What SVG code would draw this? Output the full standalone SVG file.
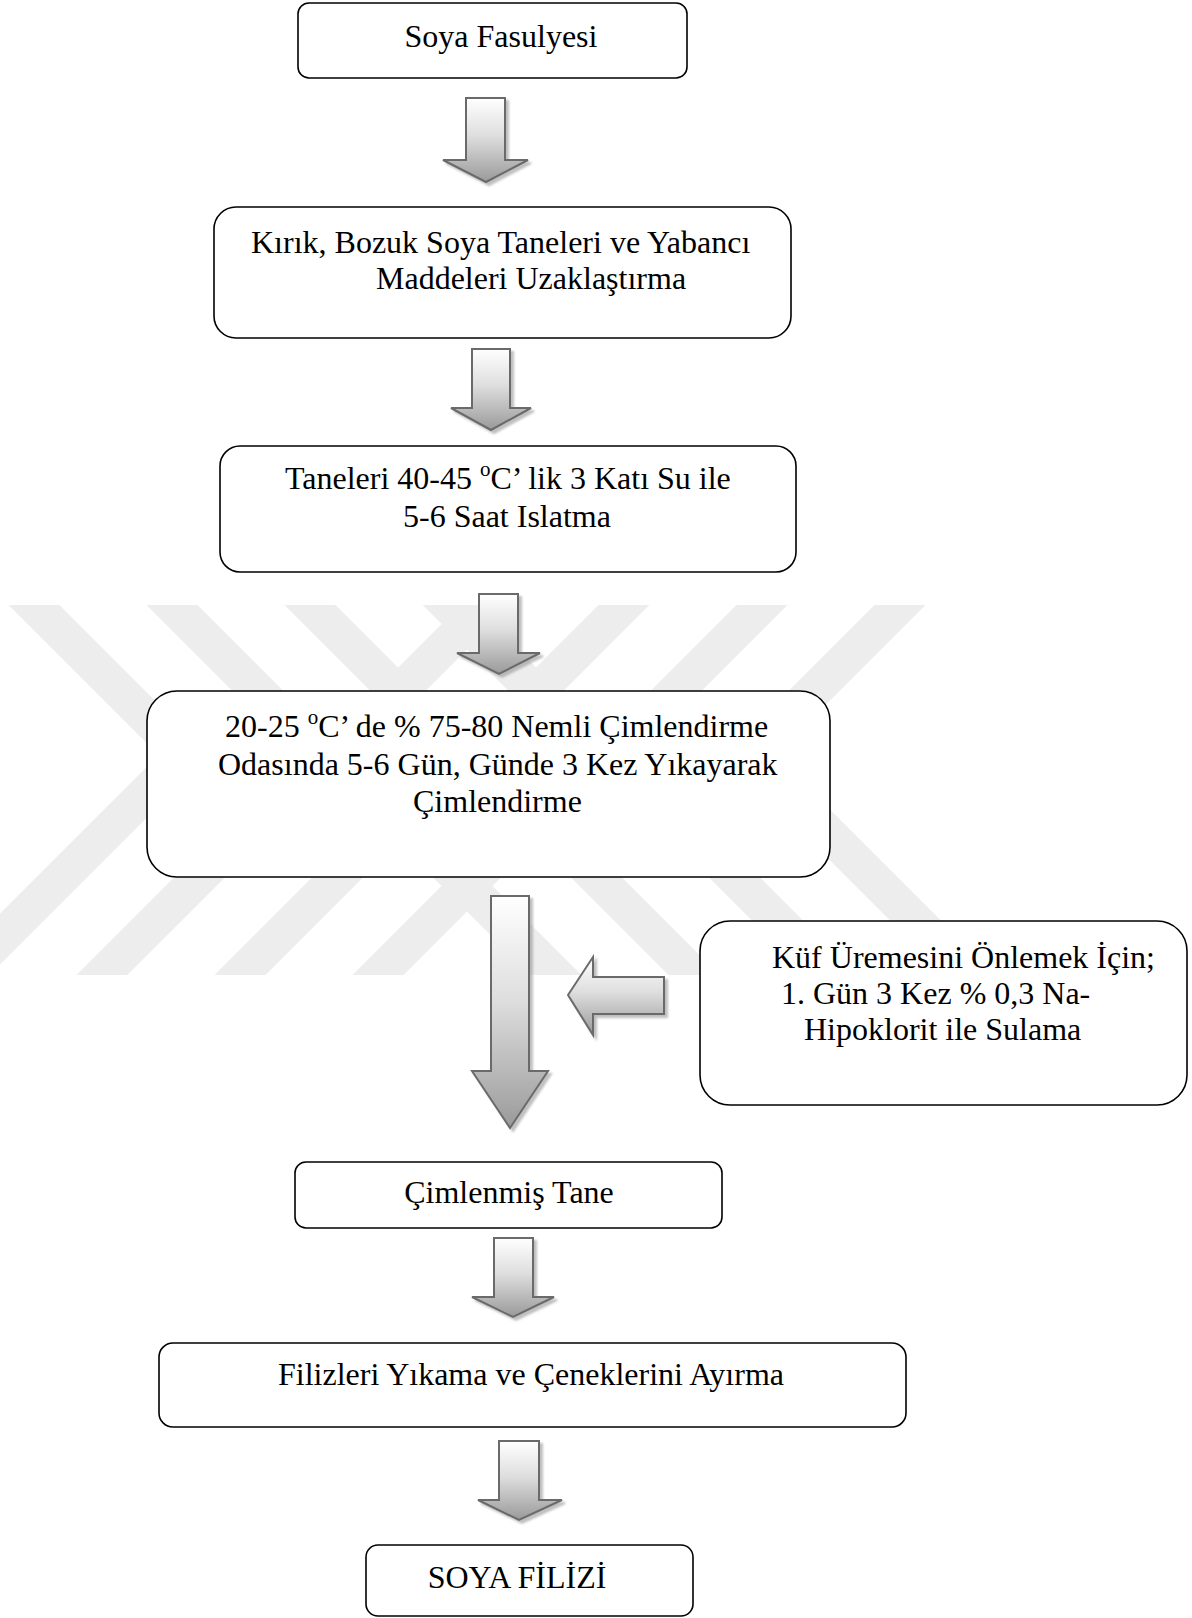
<svg xmlns="http://www.w3.org/2000/svg" width="1192" height="1618" viewBox="0 0 1192 1618">
<style>
  .box { fill: #ffffff; stroke: #000000; stroke-width: 1.6; }
  .t { font-family: "Liberation Serif", "Times New Roman", serif; font-size: 32px; fill: #000000; }
  .arrow { fill: url(#ag); stroke: #6b6b6b; stroke-width: 2; filter: url(#sh); }
  .arrowL { fill: url(#ag); stroke: #6b6b6b; stroke-width: 2; filter: url(#sh); }
  .wm { fill: none; stroke: #ededed; stroke-width: 36; stroke-linejoin: miter; }
</style>
<defs>
  <linearGradient id="ag" x1="0" y1="0" x2="0" y2="1">
    <stop offset="0" stop-color="#ffffff"/>
    <stop offset="0.45" stop-color="#dedede"/>
    <stop offset="1" stop-color="#9a9a9a"/>
  </linearGradient>
  <filter id="sh" x="-20%" y="-20%" width="140%" height="140%">
    <feDropShadow dx="3" dy="3" stdDeviation="1.2" flood-color="#8c8c8c" flood-opacity="0.55"/>
  </filter>
  <clipPath id="wmclip">
    <rect x="0" y="605" width="1192" height="370"/>
  </clipPath>
</defs>
<rect x="0" y="0" width="1192" height="1618" fill="#ffffff"/>

<!-- watermark -->
<g id="watermark" clip-path="url(#wmclip)">
  <polyline class="wm" points="-16,555 184,755 -66,1005"/>
  <polyline class="wm" points="122,555 322,755 72,1005"/>
  <polyline class="wm" points="260,555 460,755 210,1005"/>
  <polyline class="wm" points="398,555 598,755 348,1005"/>
  <polyline class="wm" points="950,555 750,755 1000,1005"/>
  <polyline class="wm" points="812,555 612,755 862,1005"/>
  <polyline class="wm" points="674,555 474,755 724,1005"/>
  <polyline class="wm" points="536,555 336,755 586,1005"/>
</g>

<!-- connectors -->
<g id="connectors">
  <path class="arrow" d="M466,98 H505 V160 H528 L486,182 L443,160 H466 Z"/>
  <path class="arrow" d="M472,349 H510 V408 H531 L491,430 L451,408 H472 Z"/>
  <path class="arrow" d="M479,594 H518 V653 H540 L499,674 L457,653 H479 Z"/>
  <path class="arrow" d="M491,896 H529 V1071 H548 L510,1128 L472,1071 H491 Z"/>
  <path class="arrowL" d="M568,995 L593,957 V977 H664 V1014 H593 V1035 Z"/>
  <path class="arrow" d="M494,1238 H533 V1297 H554 L513,1317 L472,1297 H494 Z"/>
  <path class="arrow" d="M499,1441 H539 V1500 H562 L519,1520 L478,1500 H499 Z"/>
</g>

<g id="n1">
  <rect class="box" x="298" y="3" width="389" height="75" rx="11"/>
  <text class="t" x="501" y="47" text-anchor="middle">Soya Fasulyesi</text>
</g>

<g id="n2">
  <rect class="box" x="214" y="207" width="577" height="131" rx="22"/>
  <text class="t" x="251" y="253">Kırık, Bozuk Soya Taneleri ve Yabancı</text>
  <text class="t" x="376" y="289">Maddeleri Uzaklaştırma</text>
</g>

<g id="n3">
  <rect class="box" x="220" y="446" width="576" height="126" rx="20"/>
  <text class="t" x="285" y="489">Taneleri 40-45 <tspan font-size="21" dy="-13">o</tspan><tspan dy="13">C’ lik 3 Katı Su ile</tspan></text>
  <text class="t" x="403" y="527">5-6 Saat Islatma</text>
</g>

<g id="n4">
  <rect class="box" x="147" y="691" width="683" height="186" rx="30"/>
  <text class="t" x="225" y="737">20-25 <tspan font-size="21" dy="-13">o</tspan><tspan dy="13">C’ de % 75-80 Nemli Çimlendirme</tspan></text>
  <text class="t" x="218" y="775">Odasında 5-6 Gün, Günde 3 Kez Yıkayarak</text>
  <text class="t" x="413" y="812">Çimlendirme</text>
</g>

<g id="n5">
  <rect class="box" x="700" y="921" width="487" height="184" rx="30"/>
  <text class="t" x="772" y="968">Küf Üremesini Önlemek İçin;</text>
  <text class="t" x="781" y="1004">1. Gün 3 Kez % 0,3 Na-</text>
  <text class="t" x="804" y="1040">Hipoklorit ile Sulama</text>
</g>

<g id="n6">
  <rect class="box" x="295" y="1162" width="427" height="66" rx="11"/>
  <text class="t" x="509" y="1203" text-anchor="middle">Çimlenmiş Tane</text>
</g>

<g id="n7">
  <rect class="box" x="159" y="1343" width="747" height="84" rx="14"/>
  <text class="t" x="531" y="1385" text-anchor="middle">Filizleri Yıkama ve Çeneklerini Ayırma</text>
</g>

<g id="n8">
  <rect class="box" x="366" y="1545" width="327" height="71" rx="12"/>
  <text class="t" x="517" y="1588" text-anchor="middle">SOYA FİLİZİ</text>
</g>
</svg>
